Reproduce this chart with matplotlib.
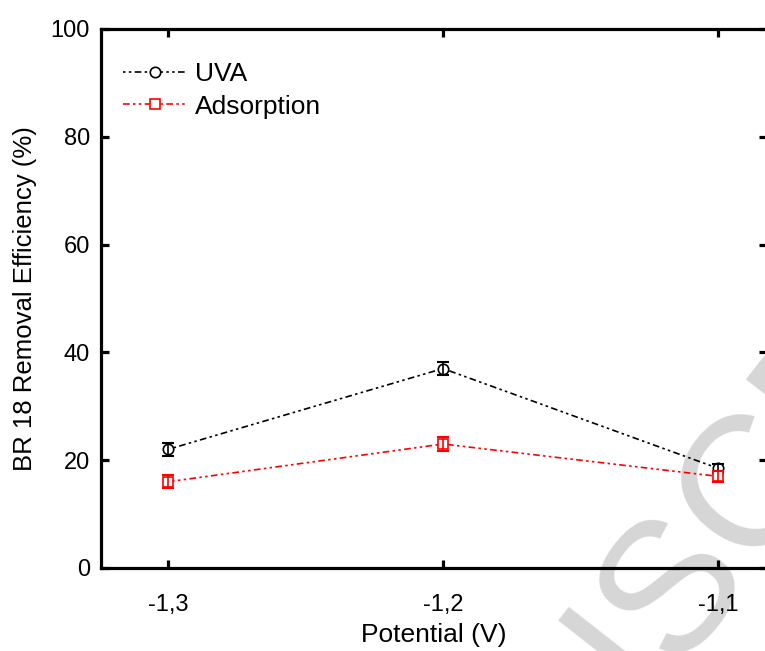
import matplotlib
matplotlib.use('Agg')
import matplotlib.pyplot as plt
from matplotlib.ticker import FuncFormatter

plt.rcParams['font.family'] = ['Liberation Sans', 'DejaVu Sans']

# removal efficiency vs applied potential
potential = [-1.3, -1.2, -1.1]
uva = [22.0, 37.0, 18.5]
uva_err = [1.2, 1.2, 0.8]
adsorption = [16.0, 23.0, 17.0]
adsorption_err = [1.2, 1.3, 1.0]

yticks = [0, 20, 40, 60, 80, 100]

fig = plt.figure(figsize=(7.65, 6.51), dpi=100)

# grey diagonal stamp behind the plot
fig.text(0.885, 0.112, 'MANUSCRIPT', fontsize=134, color='#d6d6d6',
         rotation=52, rotation_mode='anchor', ha='center', va='center',
         zorder=-5)

ax = fig.add_axes([0.132, 0.1275, 0.8706, 0.828])
ax.patch.set_alpha(0)

ax.plot(potential, uva, color='black', lw=1.2, linestyle=(0, (1.5, 2, 1.5, 2, 4, 2)),
        marker='o', ms=7.5, mfc='white', mec='black', mew=1.2, label='UVA', zorder=3)
ax.errorbar(potential, uva, yerr=uva_err, fmt='none', ecolor='black',
            elinewidth=1.2, capsize=4, capthick=1.5, zorder=3)
ax.plot(potential, adsorption, color='red', lw=1.2, linestyle=(0, (4, 2, 1.5, 2, 1.5, 2)),
        marker='s', ms=7, mfc='white', mec='red', mew=1.2, label='Adsorption', zorder=3)
ax.errorbar(potential, adsorption, yerr=adsorption_err, fmt='none', ecolor='red',
            elinewidth=1.2, capsize=4, capthick=1.5, zorder=3)

ax.set_xlim(-1.32436, -1.0822)
ax.set_ylim(0, 100)
ax.set_xticks(potential)
ax.set_yticks(yticks)
ax.xaxis.set_major_formatter(FuncFormatter(lambda v, p: ('%.1f' % v).replace('.', ',')))

for s in ax.spines.values():
    s.set_linewidth(2.3)
ax.tick_params(direction='in', length=6, width=2.3, labelsize=17,
               top=True, right=True, pad=8)
ax.tick_params(axis='x', pad=19)

ax.set_xlabel('Potential (V)', fontsize=19, labelpad=5)
ax.set_ylabel('BR 18 Removal Efficiency (%)', fontsize=18.5, labelpad=10)

ax.legend(loc='upper left', bbox_to_anchor=(0.0176, 0.958), borderaxespad=0,
          frameon=False, fontsize=19, handlelength=2.4, handletextpad=0.3,
          labelspacing=0.32, numpoints=1)

fig.savefig('out.png', dpi=100)
